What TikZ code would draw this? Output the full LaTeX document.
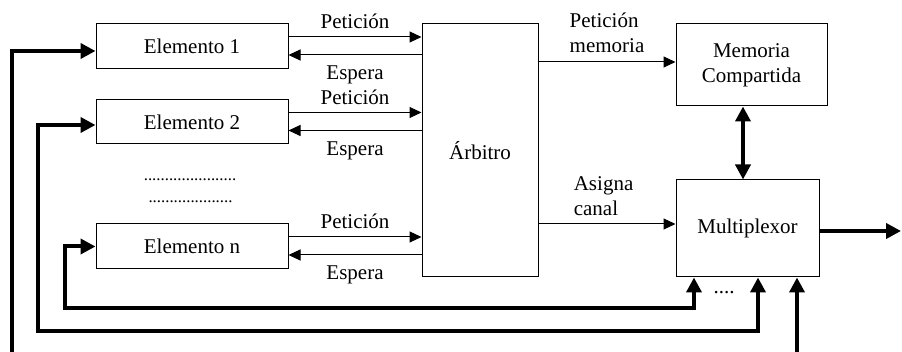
\documentclass[tikz,border=0pt]{standalone}
\usepackage{fontspec}
\setmainfont{Liberation Serif}
\usetikzlibrary{arrows.meta}
\tikzset{
  bloque/.style={draw, line width=1pt, align=center, inner sep=0pt},
  senal/.style={line width=1pt, -{Triangle[length=12pt,width=11pt]}},
  bus/.style={line width=4pt, -{Triangle[length=15pt,width=15pt]}},
  dbus/.style={line width=4pt, {Triangle[length=15pt,width=15pt]}-{Triangle[length=15pt,width=15pt]}},
  rotulo/.style={align=left, inner sep=1pt}
}

\begin{document}
\begin{tikzpicture}[x=1pt,y=1pt,font=\fontsize{21}{25}\selectfont]
\useasboundingbox (0,0) rectangle (902,352);
\node[bloque, minimum width=192pt, minimum height=45pt] (e1) at (192,305.5) {Elemento 1};
\node[bloque, minimum width=192pt, minimum height=44pt] (e2) at (192,230) {Elemento 2};
\node[bloque, minimum width=192pt, minimum height=45pt] (en) at (192,105.5) {Elemento n};
\node[bloque, minimum width=116pt, minimum height=253pt] (arb) at (480,201.5) {Árbitro};
\node[bloque, minimum width=151pt, minimum height=82pt] (mem) at (751.5,287) {Memoria\\Compartida};
\node[bloque, minimum width=143pt, minimum height=97pt] (mux) at (747.5,123.5) {Multiplexor};
\node[font=\fontsize{16.8}{20}\selectfont] (pts1) at (190,172) {......................};
\node[font=\fontsize{16.8}{20}\selectfont] (pts2) at (190.5,150) {....................};
\node (pts3) at (724,59) {....};
\coordinate (salida) at (901,121);
\foreach \e in {e1,e2,en} {
\draw[senal] ([yshift=9.5pt]\e.east) -- ([yshift=9.5pt]\e.east -| arb.west) node[midway, above=6.5pt, rotulo] {Petición};
\draw[senal] ([yshift=-8.5pt]\e.east -| arb.west) -- ([yshift=-8.5pt]\e.east) node[midway, below=9.5pt, rotulo] {Espera};
}
\draw[senal] ([yshift=3pt]mem.west -| arb.east) -- ([yshift=3pt]mem.west) node[midway, above=7.5pt, rotulo] {Petición\\memoria};
\draw[senal] ([yshift=4.5pt]mux.west -| arb.east) -- ([yshift=4.5pt]mux.west) node[pos=0.475, above=6.5pt, rotulo] {Asigna\\canal};
\draw[dbus] ([xshift=-8.5pt]mem.south) -- ([xshift=-8.5pt]mem.south |- mux.north);
\draw[bus] ([yshift=-2.5pt]mux.east) -- ([yshift=-2.5pt]mux.east -| salida);
\draw[dbus] ([xshift=-53.5pt]mux.south) -- ++(0,-31) -| ([xshift=-31pt]en.west) -- (en.west);
\draw[dbus] ([xshift=10.5pt]mux.south) -- ++(0,-54) -| ([xshift=-58pt,yshift=-3pt]e2.west) -- ([yshift=-3pt]e2.west);
\draw[dbus] ([xshift=49.5pt]mux.south) -- ++(0,-79) -| ([xshift=-84pt,yshift=-4.5pt]e1.west) -- ([yshift=-4.5pt]e1.west);
\end{tikzpicture}
\end{document}
